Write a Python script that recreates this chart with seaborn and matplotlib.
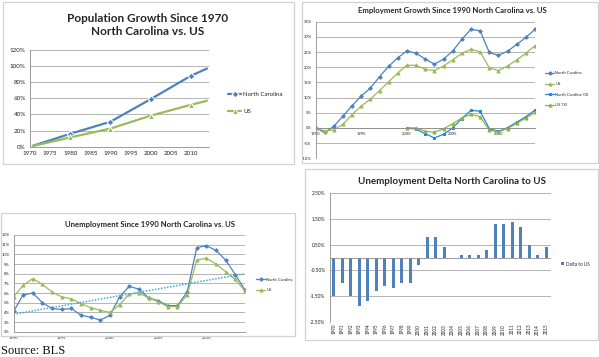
import matplotlib
matplotlib.use("Agg")
import matplotlib.pyplot as plt
from matplotlib.patches import Rectangle
import seaborn as sns

# population growth since 1970 (%)
pop_years = [1970, 1980, 1990, 2000, 2010, 2014]
pop_nc = [0, 16, 31, 59, 88, 97]
pop_us = [0, 11.5, 22.5, 38.5, 52, 57]

# employment growth since 1990 (%)
emp_years = list(range(1990, 2015))
emp_nc = [0, -1.5, 0.5, 3.9, 7.3, 10.5, 13.1, 16.9, 20.3, 23.1, 25.4, 24.6, 22.7,
          21.0, 22.7, 25.3, 29.2, 32.5, 32.0, 24.9, 23.9, 25.3, 27.5, 29.8, 32.5]
emp_us = [0, -1.0, -0.7, 1.2, 4.4, 7.2, 9.5, 12.3, 15.2, 18.1, 20.7, 20.6, 19.3,
          18.9, 20.4, 22.4, 24.6, 25.9, 25.1, 19.8, 18.9, 20.4, 22.4, 24.6, 27.1]
emp00_years = list(range(2000, 2015))
emp00_nc = [0, -0.4, -1.9, -3.3, -2.1, 0, 3.1, 5.8, 5.5, -0.2, -1.1, 0.1, 1.9, 3.7, 5.9]
emp00_us = [0, 0, -1.1, -1.4, -0.3, 1.4, 3.3, 4.5, 3.7, -0.7, -1.3, -0.2, 1.5, 3.3, 5.1]

# unemployment rate (%)
unemp_years = list(range(1990, 2015))
unemp_nc = [4.1, 5.8, 6.0, 5.0, 4.4, 4.3, 4.4, 3.7, 3.5, 3.2, 3.7, 5.6, 6.7, 6.4,
            5.5, 5.2, 4.7, 4.7, 6.1, 10.7, 10.9, 10.4, 9.4, 7.9, 6.3]
unemp_us = [5.6, 6.8, 7.5, 6.9, 6.1, 5.6, 5.4, 4.9, 4.5, 4.2, 4.0, 4.8, 5.9, 6.0,
            5.5, 5.1, 4.6, 4.6, 5.8, 9.4, 9.6, 9.0, 8.2, 7.4, 6.2]
trend_years = [1990, 2014]
trend_vals = [3.8, 8.0]

# unemployment delta NC - US (%)
delta_years = [str(y) for y in range(1990, 2016)]
delta_vals = [-1.5, -1.0, -1.5, -1.9, -1.7, -1.3, -1.1, -1.2, -1.0, -1.0, -0.3,
              0.8, 0.8, 0.4, 0, 0.1, 0.1, 0.1, 0.3, 1.3, 1.3, 1.4, 1.2, 0.5, 0.1, 0.4]

BLUE = "#4F81BD"
GREEN = "#9BBB59"
BLUE2 = "#1C8ADB"
GREEN2 = "#8DB544"
GRID = "#b4b4b4"
BOX = "#d2d2d2"

sns.set_theme(style="white")
plt.rcParams["font.family"] = ["Lato", "DejaVu Sans"]

W, H = 599, 357
fig = plt.figure(figsize=(W / 100, H / 100), dpi=100)


def px_axes(l, t, r, b):
    return fig.add_axes([l / W, 1 - b / H, (r - l) / W, (b - t) / H])


def box(l, t, r, b):
    fig.add_artist(Rectangle((l / W, 1 - b / H), (r - l) / W, (b - t) / H,
                             transform=fig.transFigure, fill=False, ec=BOX, lw=0.9))


def style(ax, fs):
    ax.set_facecolor("none")
    ax.grid(axis="y", color=GRID, lw=0.7)
    ax.grid(axis="x", visible=False)
    for s in ["top", "right"]:
        ax.spines[s].set_visible(False)
    for s in ["left", "bottom"]:
        ax.spines[s].set_color("#8c8c8c")
        ax.spines[s].set_linewidth(0.6)
    ax.tick_params(labelsize=fs, length=1.5, width=0.5, color="#8c8c8c", pad=1.5, colors="#222222")
    ax.set_xlabel("")
    ax.set_ylabel("")


def legend_at(ax, x, y, fs, **kw):
    ax.legend(loc="center left", bbox_to_anchor=(x / W, 1 - y / H), bbox_transform=fig.transFigure,
              frameon=False, fontsize=fs, borderaxespad=0, borderpad=0, handletextpad=0.3, **kw)


# ---- panel 1: population growth
box(3, 2, 294, 164)
ax1 = px_axes(30, 50, 209, 146.7)
sns.lineplot(x=pop_years, y=pop_nc, ax=ax1, color=BLUE, lw=1.6, marker="D", ms=3.5,
             markevery=[0, 1, 2, 3, 4], label="North Carolina")
sns.lineplot(x=pop_years, y=pop_us, ax=ax1, color=GREEN, lw=1.6, marker="^", ms=4,
             markevery=[0, 1, 2, 3, 4], label="US")
ax1.set_xlim(1970, 2014.5)
ax1.set_ylim(0, 120)
ax1.set_xticks(range(1970, 2011, 5))
ax1.set_yticks(range(0, 121, 20))
ax1.set_yticklabels([f"{v}%" for v in range(0, 121, 20)])
style(ax1, 4.5)
legend_at(ax1, 228, 103, 4.4, handlelength=2.2, labelspacing=1.9)
fig.text(148 / W, 1 - 25 / H, "Population Growth Since 1970\nNorth Carolina vs. US", ha="center",
         va="center", fontsize=8.5, fontweight="bold", linespacing=1.25)

# ---- panel 2: employment growth
box(302, 2, 598, 163)
ax2 = px_axes(315.5, 21.7, 535, 158.3)
sns.lineplot(x=emp_years, y=emp_nc, ax=ax2, color=BLUE, lw=0.9, marker="D", ms=1.8, mec=BLUE,
             label="North Carolina")
sns.lineplot(x=emp_years, y=emp_us, ax=ax2, color=GREEN, lw=0.9, marker="^", ms=2.2, mec=GREEN,
             label="US")
sns.lineplot(x=emp00_years, y=emp00_nc, ax=ax2, color=BLUE2, lw=0.9, marker="s", ms=1.8, mec=BLUE2,
             label="North Carolina '00")
sns.lineplot(x=emp00_years, y=emp00_us, ax=ax2, color=GREEN2, lw=0.9, marker="^", ms=2.2, mec=GREEN2,
             label="US '00")
ax2.set_xlim(1990, 2014)
ax2.set_ylim(-10, 35)
ax2.set_xticks(range(1990, 2011, 5))
ax2.set_yticks(range(-10, 36, 5))
ax2.set_yticklabels([f"{v}%" for v in range(-10, 36, 5)])
style(ax2, 3)
ax2.spines["bottom"].set_position(("data", 0))
legend_at(ax2, 545, 89.5, 3, handlelength=2.2, labelspacing=1.6)
fig.text(452 / W, 1 - 11 / H, "Employment Growth Since 1990 North Carolina vs. US", ha="center",
         va="center", fontsize=5.6, fontweight="bold")

# ---- panel 3: unemployment
box(1, 213, 295, 336)
ax3 = px_axes(13.5, 235, 245, 331.7)
sns.lineplot(x=unemp_years, y=unemp_nc, ax=ax3, color=BLUE, lw=0.9, marker="D", ms=1.8, mec=BLUE,
             label="North Carolina")
sns.lineplot(x=unemp_years, y=unemp_us, ax=ax3, color=GREEN, lw=0.9, marker="^", ms=2.2, mec=GREEN,
             label="US")
sns.lineplot(x=trend_years, y=trend_vals, ax=ax3, color="#3FA9E0", lw=1.1, ls=(0, (1, 1)))
ax3.set_xlim(1990, 2014)
ax3.set_ylim(2, 12)
ax3.set_xticks(range(1990, 2011, 5))
ax3.set_yticks(range(2, 13))
ax3.set_yticklabels([f"{v}%" for v in range(2, 13)])
style(ax3, 3)
h, l = ax3.get_legend_handles_labels()
ax3.legend(h[:2], l[:2], loc="center left", bbox_to_anchor=(256 / W, 1 - 285 / H),
           bbox_transform=fig.transFigure, frameon=False, fontsize=3, borderaxespad=0, borderpad=0,
           handletextpad=0.3, handlelength=2.2, labelspacing=1.6)
fig.text(150 / W, 1 - 225 / H, "Unemployment Since 1990 North Carolina vs. US", ha="center",
         va="center", fontsize=5.6, fontweight="bold")

fig.text(1 / W, 1 - 351 / H, "Source: BLS", ha="left", va="center", fontsize=9,
         family=["Liberation Serif", "DejaVu Serif"], color="#111111")

# ---- panel 4: unemployment delta
box(304.5, 169, 598, 339.5)
ax4 = px_axes(329.5, 193.3, 550.5, 321.7)
sns.barplot(x=delta_years, y=delta_vals, ax=ax4, color=BLUE, width=0.4, saturation=1,
            linewidth=0, label="Delta to US")
ax4.set_ylim(-2.5, 2.5)
ax4.set_xlim(-0.5, len(delta_years) - 0.5)
ax4.set_yticks([-2.5, -1.5, -0.5, 0.5, 1.5, 2.5])
ax4.set_yticklabels([f"{v:.2f}%" for v in [-2.5, -1.5, -0.5, 0.5, 1.5, 2.5]])
style(ax4, 3.5)
ax4.spines["bottom"].set_visible(False)
ax4.axhline(0, color="#8c8c8c", lw=0.6)
ax4.tick_params(axis="x", rotation=90, length=0, labelsize=3.3)
ax4.legend(loc="center left", bbox_to_anchor=(561 / W, 1 - 264 / H), bbox_transform=fig.transFigure,
           frameon=False, fontsize=3.3, borderaxespad=0, borderpad=0, handletextpad=0.4,
           handlelength=0.6, handleheight=0.6)
fig.text(452 / W, 1 - 181 / H, "Unemployment Delta North Carolina to US", ha="center",
         va="center", fontsize=7, fontweight="bold")

fig.savefig("out.png", dpi=100, facecolor="white")
